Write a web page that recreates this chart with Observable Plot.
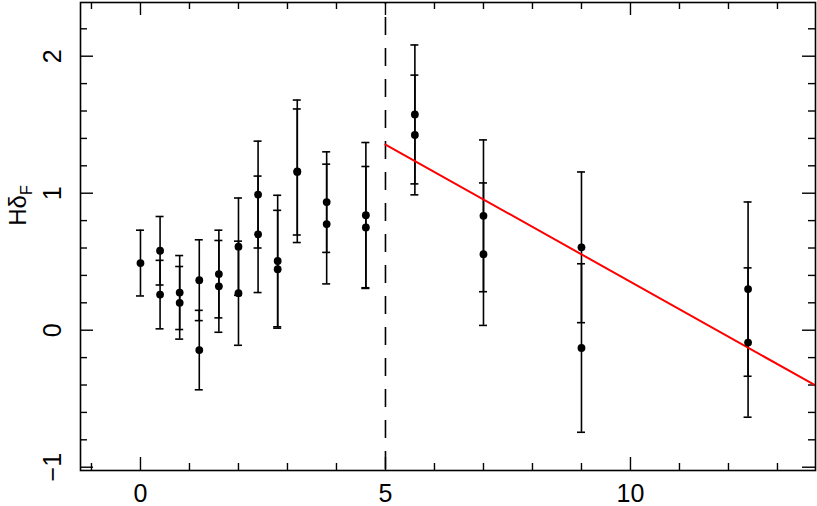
<!DOCTYPE html>
<html>
<head>
<meta charset="utf-8">
<script src="https://cdn.jsdelivr.net/npm/d3@7"></script>
<script src="https://cdn.jsdelivr.net/npm/@observablehq/plot@0.6"></script>
<style>
  html, body { margin: 0; padding: 0; background: #fff; }
  #chart { width: 817px; height: 506px; }
</style>
</head>
<body>
<div id="chart"></div>
<script>
// ---- data ----
const xPos  = [0, 0.4, 0.4, 0.8, 0.8, 1.2, 1.2, 1.6, 1.6, 2.0, 2.0, 2.4, 2.4, 2.8, 2.8, 3.2, 3.2, 3.8, 3.8, 4.6, 4.6, 5.6, 5.6, 7.0, 7.0, 9.0, 9.0, 12.4, 12.4];
const hdF   = [0.49, 0.58, 0.26, 0.275, 0.20, 0.365, -0.145, 0.41, 0.32, 0.61, 0.27, 0.99, 0.70, 0.505, 0.445, 1.16, 1.155, 0.935, 0.775, 0.84, 0.75, 1.575, 1.425, 0.835, 0.555, 0.605, -0.13, 0.30, -0.09];
const hdErr = [0.24, 0.25, 0.25, 0.27, 0.265, 0.295, 0.29, 0.32, 0.335, 0.355, 0.38, 0.39, 0.425, 0.48, 0.43, 0.52, 0.46, 0.367, 0.437, 0.53, 0.445, 0.507, 0.437, 0.554, 0.52, 0.55, 0.615, 0.636, 0.545];

const fitX = [5, 13.8];
const fitY = [1.355, -0.408];
const breakX = [5];

const xMajor = [0, 5, 10];
const xMinor = [-1, 1, 2, 3, 4, 6, 7, 8, 9, 11, 12, 13];
const yMajor = [-1, 0, 1, 2];
const yMinor = [-0.8, -0.6, -0.4, -0.2, 0.2, 0.4, 0.6, 0.8, 1.2, 1.4, 1.6, 1.8, 2.2];
const xTickLabels = [0, 5, 10];
const yTickLabels = [-1, 0, 1, 2];
const yTitleMain = "H\u03B4";
const yTitleSub = "F";

// ---- layout / style ----
const W = 817, H = 506;
const mT = 2, mB = 36, mL = 80, mR = 2;
const innerH = H - mT - mB, innerW = W - mL - mR;
const majorLen = 13, minorLen = 7;
const font = "'Liberation Sans', Arial, Helvetica, sans-serif";

const data = xPos.map((x, i) => ({x, y: hdF[i], e: hdErr[i]}));
const fmt = d => d < 0 ? "\u2212" + Math.abs(d) : String(d);

const tickStyle = {stroke: "black", strokeWidth: 1.4};

const svg = Plot.plot({
  width: W, height: H,
  marginTop: mT, marginBottom: mB, marginLeft: mL, marginRight: mR,
  style: {background: "white", fontFamily: font, overflow: "visible"},
  x: {domain: [-1.224, 13.776], axis: null},
  y: {domain: [-1.024, 2.392], axis: null},
  marks: [
    // ticks (inward on all four sides)
    Plot.tickX(xMajor, {x: d => d, insetTop: innerH - majorLen, ...tickStyle}),
    Plot.tickX(xMinor, {x: d => d, insetTop: innerH - minorLen, ...tickStyle}),
    Plot.tickX(xMajor, {x: d => d, insetBottom: innerH - majorLen, ...tickStyle}),
    Plot.tickX(xMinor, {x: d => d, insetBottom: innerH - minorLen, ...tickStyle}),
    Plot.tickY(yMajor, {y: d => d, insetRight: innerW - majorLen, ...tickStyle}),
    Plot.tickY(yMinor, {y: d => d, insetRight: innerW - minorLen, ...tickStyle}),
    Plot.tickY(yMajor, {y: d => d, insetLeft: innerW - majorLen, ...tickStyle}),
    Plot.tickY(yMinor, {y: d => d, insetLeft: innerW - minorLen, ...tickStyle}),
    // tick labels
    Plot.text(xTickLabels, {x: d => d, text: fmt, frameAnchor: "bottom", dy: 23, lineAnchor: "middle", fontSize: 25, fill: "black"}),
    Plot.text(yTickLabels, {y: d => d, text: fmt, frameAnchor: "left", dx: -28, rotate: -90, lineAnchor: "middle", textAnchor: "middle", fontSize: 25, fill: "black"}),
    // axis title
    Plot.text([yTitleMain + yTitleSub], {text: d => d, frameAnchor: "left", dx: -62, dy: -31, rotate: -90, lineAnchor: "middle", textAnchor: "middle", fontSize: 24, fill: "black"}),
    // dashed divider
    Plot.ruleX(breakX, {x: d => d, stroke: "black", strokeWidth: 1.6, strokeDasharray: "18,13", strokeDashoffset: 16}),
    // error bars
    Plot.ruleX(data, {x: "x", y1: d => d.y - d.e, y2: d => d.y + d.e, stroke: "black", strokeWidth: 1.6}),
    Plot.ruleY(data, {y: d => d.y + d.e, x1: "x", x2: "x", insetLeft: -4, insetRight: -4, stroke: "black", strokeWidth: 1.6}),
    Plot.ruleY(data, {y: d => d.y - d.e, x1: "x", x2: "x", insetLeft: -4, insetRight: -4, stroke: "black", strokeWidth: 1.6}),
    // fit line
    Plot.line(fitX.map((x, i) => ({x, y: fitY[i]})), {x: "x", y: "y", stroke: "red", strokeWidth: 2, clip: true}),
    // points
    Plot.dot(data, {x: "x", y: "y", r: 3.9, fill: "black", stroke: "none"}),
    // frame
    Plot.frame({stroke: "black", strokeWidth: 1.6})
  ]
});

d3.select(svg).selectAll("text")
  .filter(function() { return this.textContent === yTitleMain + yTitleSub; })
  .each(function() {
    const t = d3.select(this);
    t.text(null);
    t.append("tspan").text(yTitleMain);
    t.append("tspan").attr("dy", "0.35em").attr("font-size", "16px").text(yTitleSub);
  });

document.getElementById("chart").appendChild(svg);
</script>
</body>
</html>
